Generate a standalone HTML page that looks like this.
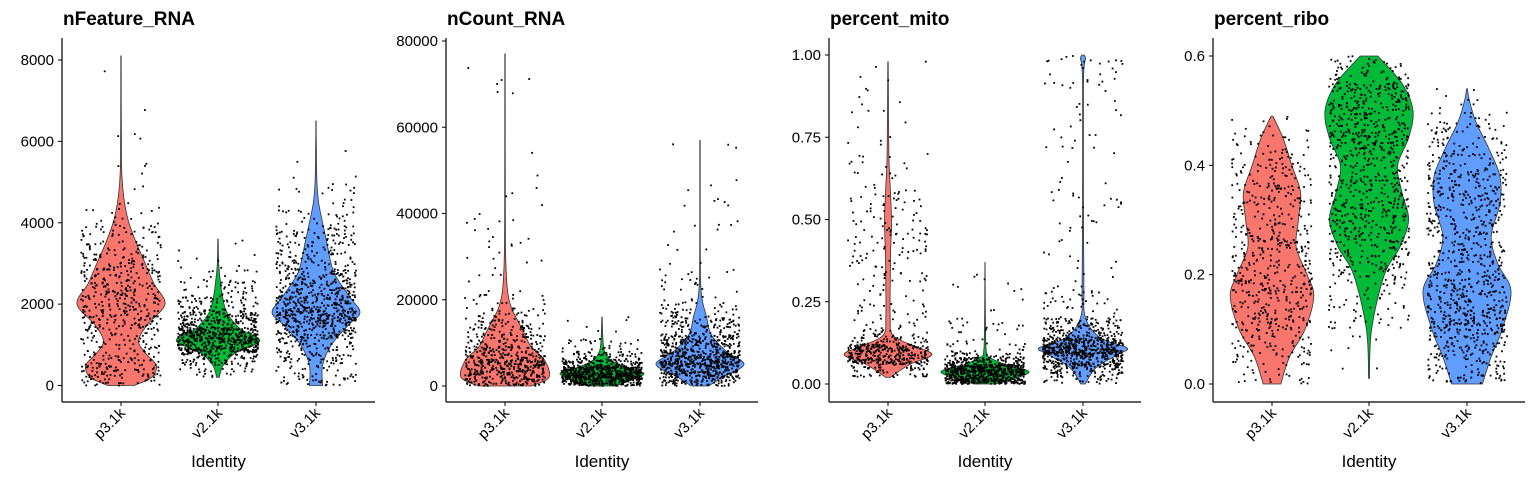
<!DOCTYPE html>
<html><head><meta charset="utf-8"><style>
body{margin:0;background:#fff}
svg text{font-family:"Liberation Sans",Arial,sans-serif}
</style></head><body>
<svg id="chart" width="1536" height="480" xmlns="http://www.w3.org/2000/svg"></svg>
<script>
const categories = ["p3.1k","v2.1k","v3.1k"];
const colors = ["#F8766D","#00BA38","#619CFF"];
const panelTitles = ["nFeature_RNA","nCount_RNA","percent_mito","percent_ribo"];
const tickValues = [[0,2000,4000,6000,8000],[0,20000,40000,60000,80000],[0,0.25,0.5,0.75,1.0],[0,0.2,0.4,0.6]];
const tickLabels = [["0","2000","4000","6000","8000"],["0","20000","40000","60000","80000"],["0.00","0.25","0.50","0.75","1.00"],["0.0","0.2","0.4","0.6"]];
const yMax = [8000,80000,1.0,0.6];
// violin profiles: [value, relative half-width]
const nFeatureProfiles = [
 [[0,0.3],[200,0.7],[500,0.8],[800,0.55],[1100,0.4],[1500,0.6],[2000,1.0],[2500,0.75],[3000,0.55],[3500,0.35],[4000,0.18],[4500,0.08],[5000,0.03],[5500,0.012],[6500,0.006],[8100,0.004]],
 [[200,0.03],[500,0.12],[800,0.4],[1100,0.95],[1400,0.5],[1800,0.2],[2200,0.1],[2600,0.05],[3000,0.015],[3600,0.005]],
 [[0,0.15],[500,0.15],[1000,0.35],[1500,0.75],[1800,1.0],[2200,0.75],[2800,0.4],[3500,0.25],[4000,0.15],[4500,0.06],[5000,0.02],[6000,0.006],[6500,0.004]]];
const nCountProfiles = [
 [[0,0.6],[2000,1.0],[6000,0.9],[9000,0.6],[12000,0.45],[15000,0.3],[18000,0.15],[22000,0.06],[30000,0.015],[45000,0.006],[77000,0.004]],
 [[0,0.3],[1500,0.7],[3000,0.95],[4500,0.5],[6000,0.2],[8000,0.06],[11000,0.02],[16000,0.005]],
 [[0,0.2],[2000,0.5],[5000,1.0],[8000,0.6],[12000,0.25],[16000,0.15],[20000,0.05],[25000,0.012],[40000,0.005],[57000,0.004]]];
const mitoProfiles = [
 [[0.02,0.05],[0.06,0.5],[0.09,1.0],[0.12,0.5],[0.15,0.1],[0.2,0.05],[0.3,0.05],[0.4,0.06],[0.5,0.08],[0.6,0.05],[0.7,0.02],[0.98,0.005]],
 [[0.0,0.25],[0.035,1.0],[0.06,0.45],[0.08,0.12],[0.1,0.03],[0.2,0.01],[0.37,0.003]],
 [[0.0,0.05],[0.05,0.3],[0.09,0.8],[0.11,1.0],[0.14,0.4],[0.2,0.06],[0.3,0.02],[0.6,0.01],[0.9,0.01],[0.97,0.03],[0.99,0.06],[1.0,0.02]]];
const riboProfiles = [
 [[0.0,0.2],[0.05,0.4],[0.1,0.75],[0.16,0.95],[0.2,0.8],[0.25,0.55],[0.3,0.6],[0.35,0.65],[0.4,0.45],[0.45,0.25],[0.49,0.02]],
 [[0.01,0.01],[0.1,0.06],[0.2,0.35],[0.25,0.7],[0.3,0.9],[0.35,0.75],[0.4,0.65],[0.45,0.9],[0.5,1.0],[0.55,0.75],[0.6,0.2]],
 [[0.0,0.35],[0.05,0.55],[0.1,0.8],[0.17,1.0],[0.22,0.7],[0.27,0.55],[0.33,0.75],[0.38,0.75],[0.43,0.5],[0.48,0.2],[0.52,0.05],[0.54,0.01]]];
const profiles = [nFeatureProfiles,nCountProfiles,mitoProfiles,riboProfiles];
const pointCounts = [600,850,900];

const NS="http://www.w3.org/2000/svg";
const svg=document.getElementById('chart');
function mk(tag,attrs,parent){const e=document.createElementNS(NS,tag);for(const k in attrs)e.setAttribute(k,attrs[k]);(parent||svg).appendChild(e);return e;}
let seed=12345;
function rnd(){seed=(seed*1103515245+12345)%2147483648;return seed/2147483648;}
function smooth(pts){ // catmull-rom through points (open)
  let d='M'+pts[0][0].toFixed(1)+','+pts[0][1].toFixed(1);
  for(let i=0;i<pts.length-1;i++){
    const p0=pts[Math.max(0,i-1)],p1=pts[i],p2=pts[i+1],p3=pts[Math.min(pts.length-1,i+2)];
    const c1=[p1[0]+(p2[0]-p0[0])/6,p1[1]+(p2[1]-p0[1])/6];
    const c2=[p2[0]-(p3[0]-p1[0])/6,p2[1]-(p3[1]-p1[1])/6];
    d+='C'+c1.map(v=>v.toFixed(1)).join(',')+' '+c2.map(v=>v.toFixed(1)).join(',')+' '+p2.map(v=>v.toFixed(1)).join(',');
  }
  return d;
}

const axisX=[62,446,829,1213], axisEnd=[375,758,1141,1525];
const y0=[385.5,386,384,384], yTop=[60,41,55,56];
const catOff=[59,156,254];
const maxHW=44;

for(let p=0;p<4;p++){
  const g=mk('g',{});
  
  
  const ys=v=>y0[p]-(v/yMax[p])*(y0[p]-yTop[p]);
  const xs=i=>axisX[p]+catOff[i];
  const t=mk('text',{x:axisX[p]+1,y:25,'font-size':19,'font-weight':'bold',fill:'#000'},g);
  t.textContent=panelTitles[p];
  
  
  for(let i=0;i<3;i++){
    const prof=profiles[p][i];
    const cx=xs(i);
    const right=prof.map(d=>[cx+d[1]*maxHW,ys(d[0])]);
    const left=prof.slice().reverse().map(d=>[cx-d[1]*maxHW,ys(d[0])]);
    const rp=smooth(right), lp=smooth(left).replace(/^M/,'L');
    const path=mk('path',{d:rp+lp+'Z',fill:colors[i],stroke:'#333','stroke-width':0.8,'stroke-linejoin':'round'},g);
    
    
    const segs=[];let tot=0;
    for(let k=0;k<prof.length-1;k++){const a=(prof[k][1]+prof[k+1][1])/2*(prof[k+1][0]-prof[k][0]);segs.push(a);tot+=a;}
    const pg=mk('g',{fill:'#000'},g);
    
    
    for(let n=0;n<pointCounts[i];n++){
      let r=rnd()*tot,k=0;while(k<segs.length-1&&r>segs[k]){r-=segs[k];k++;}
      const v=prof[k][0]+rnd()*(prof[k+1][0]-prof[k][0]);
      const x=cx+(rnd()*2-1)*40;
      mk('rect',{x:(x-0.9).toFixed(1),y:(ys(v)-0.9).toFixed(1),width:1.8,height:1.8},pg);
    }
    mk('line',{x1:cx,x2:cx,y1:402,y2:406,stroke:'#000'},g);
    const lab=mk('text',{x:0,y:0,'font-size':15,'text-anchor':'end',transform:`translate(${cx+5},${414}) rotate(-45)`,fill:'#000'},g);
    lab.textContent=categories[i];
    
    
  }
  mk('line',{x1:axisX[p],x2:axisX[p],y1:38,y2:402,stroke:'#000','stroke-width':1.2},g);
  mk('line',{x1:axisX[p],x2:axisEnd[p],y1:402,y2:402,stroke:'#000','stroke-width':1.2},g);
  tickValues[p].forEach((v,j)=>{
    const y=ys(v);
    mk('line',{x1:axisX[p]-4,x2:axisX[p],y1:y,y2:y,stroke:'#000'},g);
    const tl=mk('text',{x:axisX[p]-8,y:y+5,'font-size':15,'text-anchor':'end',fill:'#000'},g);
    tl.textContent=tickLabels[p][j];
    
    
  });
  const xt=mk('text',{x:(axisX[p]+axisEnd[p])/2,y:467,'font-size':17,'text-anchor':'middle',fill:'#000'},g);
  xt.textContent='Identity';
  
  
}
</script>
</body></html>
